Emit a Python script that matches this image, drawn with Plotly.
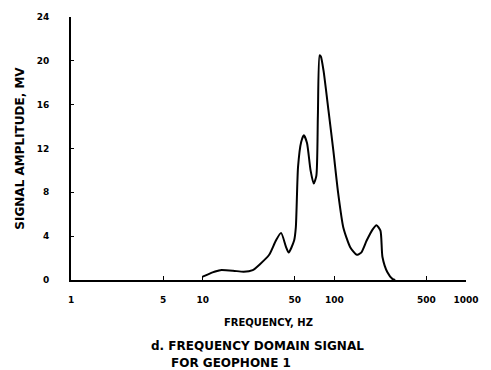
import plotly.graph_objects as go

freq = [10, 11.9, 13.6, 17, 20.5, 24, 27, 32, 36, 39.4, 43, 45, 49.5, 51, 53, 56,
        58.7, 62, 66, 69.7, 73, 75, 77.3, 79, 82.8, 90.2, 98.3, 107, 117, 132, 148,
        160, 176, 195, 209, 224, 232, 253, 276, 290]
amp = [0.3, 0.7, 0.9, 0.85, 0.75, 0.9, 1.4, 2.3, 3.6, 4.3, 3.0, 2.5, 3.6, 4.8, 10.3, 12.6,
       13.2, 12.5, 10.0, 8.8, 9.5, 15.0, 20.5, 20.4, 19.1, 15.5, 11.8, 7.9, 4.8, 3.0, 2.3,
       2.5, 3.6, 4.6, 5.0, 4.5, 2.1, 0.7, 0.1, 0.0]

x_ticks = [1, 5, 10, 50, 100, 500, 1000]
y_ticks = [0, 4, 8, 12, 16, 20, 24]

font = "DejaVu Sans"

fig = go.Figure()
fig.add_trace(go.Scatter(x=freq, y=amp, mode="lines",
                         line=dict(color="black", width=2, shape="spline", smoothing=0.6),
                         showlegend=False, hoverinfo="skip"))

L, W = 71, 401

fig.update_layout(
    width=491, height=370,
    margin=dict(l=L, r=19, t=15, b=90),
    paper_bgcolor="white", plot_bgcolor="white",
    font=dict(family=font, color="black", size=9, weight="bold"),
    xaxis=dict(type="log", range=[0, 3], tickvals=x_ticks,
               ticktext=[str(v) for v in x_ticks],
               showgrid=False, zeroline=False, showline=True, linecolor="black",
               linewidth=2, ticks="inside", ticklen=4, tickcolor="black",
               ticklabelstandoff=10,
               tickfont=dict(family=font, size=9, weight="bold"),
               title=dict(text="FREQUENCY, HZ", font=dict(family=font, size=10, weight="bold"),
                          standoff=15)),
    yaxis=dict(range=[0, 24], tickvals=y_ticks, ticktext=[str(v) for v in y_ticks],
               showgrid=False, zeroline=False, showline=True, linecolor="black",
               linewidth=2, ticks="inside", ticklen=3, tickcolor="black",
               ticklabelstandoff=18,
               tickfont=dict(family=font, size=9, weight="bold"),
               title=dict(text="SIGNAL AMPLITUDE, MV",
                          font=dict(family=font, size=12, weight="bold"),
                          standoff=9)),
    annotations=[
        dict(text="d. FREQUENCY DOMAIN SIGNAL", xref="paper", yref="paper",
             x=(150 - L) / W, y=0, xanchor="left", yanchor="middle",
             yshift=-66, showarrow=False, font=dict(family=font, size=12, weight="bold")),
        dict(text="FOR GEOPHONE 1", xref="paper", yref="paper",
             x=(170 - L) / W, y=0, xanchor="left", yanchor="middle",
             yshift=-83, showarrow=False, font=dict(family=font, size=12, weight="bold")),
    ],
)

fig.write_html("out.html")
